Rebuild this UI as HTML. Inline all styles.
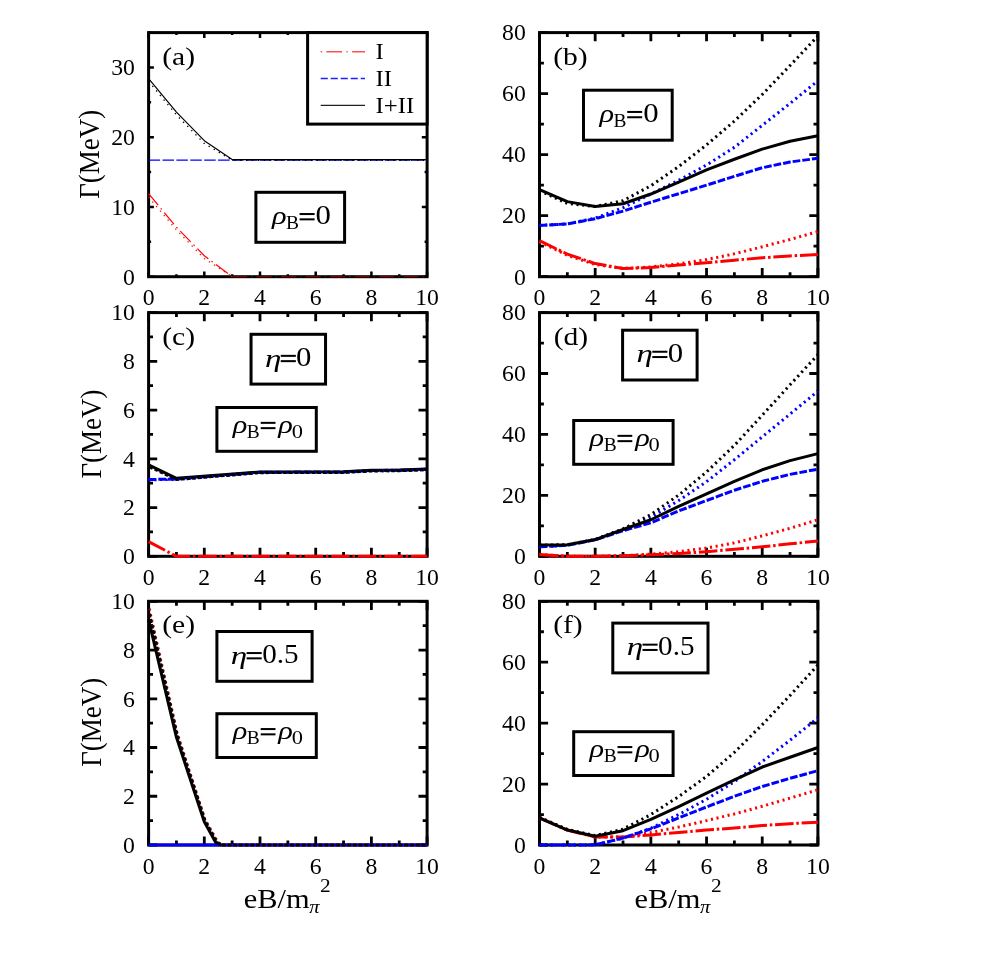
<!DOCTYPE html>
<html><head><meta charset="utf-8"><title>figure</title>
<style>html,body{margin:0;padding:0;background:#fff;}svg{display:block;will-change:transform;}text{font-family:'Liberation Serif', serif;fill:#000;}</style></head><body>
<svg width="981" height="980" viewBox="0 0 981 980">
<rect width="981" height="980" fill="#fff"/>
<rect x="148.60" y="32.60" width="278.50" height="244.10" fill="none" stroke="#000" stroke-width="3.0"/>
<path d="M148.60,276.70 v-5.30 M148.60,32.60 v5.30 M176.45,276.70 v-2.50 M176.45,32.60 v2.50 M204.30,276.70 v-5.30 M204.30,32.60 v5.30 M232.15,276.70 v-2.50 M232.15,32.60 v2.50 M260.00,276.70 v-5.30 M260.00,32.60 v5.30 M287.85,276.70 v-2.50 M287.85,32.60 v2.50 M315.70,276.70 v-5.30 M315.70,32.60 v5.30 M343.55,276.70 v-2.50 M343.55,32.60 v2.50 M371.40,276.70 v-5.30 M371.40,32.60 v5.30 M399.25,276.70 v-2.50 M399.25,32.60 v2.50 M427.10,276.70 v-5.30 M427.10,32.60 v5.30 M148.60,276.70 h5.30 M427.10,276.70 h-5.30 M148.60,241.83 h2.50 M427.10,241.83 h-2.50 M148.60,206.96 h5.30 M427.10,206.96 h-5.30 M148.60,172.09 h2.50 M427.10,172.09 h-2.50 M148.60,137.21 h5.30 M427.10,137.21 h-5.30 M148.60,102.34 h2.50 M427.10,102.34 h-2.50 M148.60,67.47 h5.30 M427.10,67.47 h-5.30 M148.60,32.60 h2.50 M427.10,32.60 h-2.50" fill="none" stroke="#000" stroke-width="2.5"/>
<text transform="translate(148.60,305.30) scale(1.010,1)" font-size="23.50" text-anchor="middle">0</text>
<text transform="translate(204.30,305.30) scale(1.010,1)" font-size="23.50" text-anchor="middle">2</text>
<text transform="translate(260.00,305.30) scale(1.010,1)" font-size="23.50" text-anchor="middle">4</text>
<text transform="translate(315.70,305.30) scale(1.010,1)" font-size="23.50" text-anchor="middle">6</text>
<text transform="translate(371.40,305.30) scale(1.010,1)" font-size="23.50" text-anchor="middle">8</text>
<text transform="translate(427.10,305.30) scale(1.010,1)" font-size="23.50" text-anchor="middle">10</text>
<text transform="translate(134.90,284.50) scale(1.010,1)" font-size="23.50" text-anchor="end">0</text>
<text transform="translate(134.90,214.76) scale(1.010,1)" font-size="23.50" text-anchor="end">10</text>
<text transform="translate(134.90,145.01) scale(1.010,1)" font-size="23.50" text-anchor="end">20</text>
<text transform="translate(134.90,75.27) scale(1.010,1)" font-size="23.50" text-anchor="end">30</text>
<path d="M148.60,160.09 L427.10,160.09" fill="none" stroke="#0000ff" stroke-width="1.3" stroke-linejoin="round" stroke-dasharray="11.5 2.4"/>
<path d="M148.60,78.63 L176.45,112.11 L204.30,140.70 L232.15,159.53 L427.10,159.53" fill="none" stroke="#000000" stroke-width="1.2" stroke-linejoin="round"/>
<path d="M148.60,81.42 L176.45,114.90 L204.30,143.49 L232.15,160.23 L427.10,160.23" fill="none" stroke="#000000" stroke-width="1.3" stroke-linejoin="round" stroke-dasharray="1.3 4.6"/>
<path d="M148.60,193.71 L176.45,227.18 L204.30,255.78 L232.15,276.70" fill="none" stroke="#ff0000" stroke-width="1.2" stroke-linejoin="round" stroke-dasharray="15 4 1.5 4"/>
<path d="M232.15,276.70 L427.10,276.70" fill="none" stroke="#d00000" stroke-width="1.1" stroke-linejoin="round" stroke-dasharray="15 4 1.5 4" stroke-opacity="0.75"/>
<path d="M148.60,197.19 L176.45,229.97 L204.30,258.57 L232.15,276.70" fill="none" stroke="#ff0000" stroke-width="1.3" stroke-linejoin="round" stroke-dasharray="1.3 4.6"/>
<rect x="307.60" y="32.60" width="119.50" height="91.50" fill="#fff" stroke="#000" stroke-width="3.0"/>
<path d="M320.7,51.7 H365" stroke="#ff5050" stroke-width="1.5" stroke-dasharray="1.4 4.3 15.7 4.3" fill="none"/>
<path d="M320.7,78.6 H365" stroke="#2020ff" stroke-width="1.5" stroke-dasharray="7.1 2.9" fill="none"/>
<path d="M320.7,105.4 H365" stroke="#222" stroke-width="1.3" fill="none"/>
<text transform="translate(375.53,59.30) scale(1.100,1)" font-size="22.50">I</text>
<text transform="translate(375.53,86.00) scale(1.100,1)" font-size="22.50">II</text>
<text transform="translate(375.53,112.90) scale(1.100,1)" font-size="22.50">I+II</text>
<text transform="translate(162.24,64.60) scale(1.130,1)" font-size="26.20">(a)</text>
<rect x="255.90" y="192.30" width="88.70" height="50.00" fill="#fff" stroke="#000" stroke-width="3.0"/>
<text transform="translate(271.96,224.00) scale(1.250,1)" font-size="24.30" font-style="italic">ρ</text>
<text transform="translate(285.97,228.90) scale(1.050,1)" font-size="18.50">B</text>
<rect x="299.60" y="213.05" width="15.00" height="2.0" fill="#000"/>
<rect x="299.60" y="218.35" width="15.00" height="2.0" fill="#000"/>
<text transform="translate(315.55,224.00) scale(1.100,1)" font-size="28.00">0</text>
<rect x="539.50" y="32.60" width="278.40" height="244.10" fill="none" stroke="#000" stroke-width="3.0"/>
<path d="M539.50,276.70 v-8.60 M539.50,32.60 v8.60 M567.34,276.70 v-4.40 M567.34,32.60 v4.40 M595.18,276.70 v-8.60 M595.18,32.60 v8.60 M623.02,276.70 v-4.40 M623.02,32.60 v4.40 M650.86,276.70 v-8.60 M650.86,32.60 v8.60 M678.70,276.70 v-4.40 M678.70,32.60 v4.40 M706.54,276.70 v-8.60 M706.54,32.60 v8.60 M734.38,276.70 v-4.40 M734.38,32.60 v4.40 M762.22,276.70 v-8.60 M762.22,32.60 v8.60 M790.06,276.70 v-4.40 M790.06,32.60 v4.40 M817.90,276.70 v-8.60 M817.90,32.60 v8.60 M539.50,276.70 h8.60 M817.90,276.70 h-8.60 M539.50,246.19 h4.40 M817.90,246.19 h-4.40 M539.50,215.67 h8.60 M817.90,215.67 h-8.60 M539.50,185.16 h4.40 M817.90,185.16 h-4.40 M539.50,154.65 h8.60 M817.90,154.65 h-8.60 M539.50,124.14 h4.40 M817.90,124.14 h-4.40 M539.50,93.62 h8.60 M817.90,93.62 h-8.60 M539.50,63.11 h4.40 M817.90,63.11 h-4.40 M539.50,32.60 h8.60 M817.90,32.60 h-8.60" fill="none" stroke="#000" stroke-width="2.8"/>
<text transform="translate(539.50,305.30) scale(1.010,1)" font-size="23.50" text-anchor="middle">0</text>
<text transform="translate(595.18,305.30) scale(1.010,1)" font-size="23.50" text-anchor="middle">2</text>
<text transform="translate(650.86,305.30) scale(1.010,1)" font-size="23.50" text-anchor="middle">4</text>
<text transform="translate(706.54,305.30) scale(1.010,1)" font-size="23.50" text-anchor="middle">6</text>
<text transform="translate(762.22,305.30) scale(1.010,1)" font-size="23.50" text-anchor="middle">8</text>
<text transform="translate(817.90,305.30) scale(1.010,1)" font-size="23.50" text-anchor="middle">10</text>
<text transform="translate(525.80,284.50) scale(1.010,1)" font-size="23.50" text-anchor="end">0</text>
<text transform="translate(525.80,223.47) scale(1.010,1)" font-size="23.50" text-anchor="end">20</text>
<text transform="translate(525.80,162.45) scale(1.010,1)" font-size="23.50" text-anchor="end">40</text>
<text transform="translate(525.80,101.42) scale(1.010,1)" font-size="23.50" text-anchor="end">60</text>
<text transform="translate(525.80,40.40) scale(1.010,1)" font-size="23.50" text-anchor="end">80</text>
<path d="M539.50,241.61 L567.34,255.34 L595.18,264.50 L623.02,268.46 L650.86,266.94 L678.70,263.88 L706.54,259.61 L734.38,253.82 L762.22,246.80 L790.06,239.47 L817.90,231.54" fill="none" stroke="#ff0000" stroke-width="3.0" stroke-linejoin="round" stroke-dasharray="2.1 3.6"/>
<path d="M539.50,240.70 L567.34,254.12 L595.18,263.58 L623.02,268.46 L650.86,267.55 L678.70,265.11 L706.54,262.66 L734.38,260.22 L762.22,257.78 L790.06,255.95 L817.90,254.58" fill="none" stroke="#ff0000" stroke-width="3.0" stroke-linejoin="round" stroke-dasharray="18.5 2.8 2.5 2.8"/>
<path d="M539.50,225.44 L567.34,223.91 L595.18,218.12 L623.02,207.74 L650.86,194.01 L678.70,180.28 L706.54,165.02 L734.38,147.33 L762.22,125.36 L790.06,103.39 L817.90,80.81" fill="none" stroke="#0000ff" stroke-width="3.0" stroke-linejoin="round" stroke-dasharray="2.1 3.6"/>
<path d="M539.50,225.44 L567.34,223.91 L595.18,218.73 L623.02,211.10 L650.86,202.25 L678.70,193.71 L706.54,185.16 L734.38,176.31 L762.22,167.77 L790.06,161.97 L817.90,158.31" fill="none" stroke="#0000ff" stroke-width="3.0" stroke-linejoin="round" stroke-dasharray="7.7 2.0"/>
<path d="M539.50,190.65 L567.34,203.47 L595.18,206.52 L623.02,200.72 L650.86,185.77 L678.70,166.55 L706.54,144.89 L734.38,121.09 L762.22,94.54 L790.06,65.55 L817.90,35.96" fill="none" stroke="#000000" stroke-width="3.0" stroke-linejoin="round" stroke-dasharray="2.1 3.6"/>
<path d="M539.50,189.74 L567.34,201.64 L595.18,206.52 L623.02,203.78 L650.86,194.01 L678.70,182.11 L706.54,169.91 L734.38,159.23 L762.22,149.16 L790.06,141.22 L817.90,135.73" fill="none" stroke="#000000" stroke-width="3.0" stroke-linejoin="round"/>
<text transform="translate(553.14,64.60) scale(1.130,1)" font-size="26.20">(b)</text>
<rect x="583.50" y="90.20" width="88.70" height="50.00" fill="#fff" stroke="#000" stroke-width="3.0"/>
<text transform="translate(599.56,121.90) scale(1.250,1)" font-size="24.30" font-style="italic">ρ</text>
<text transform="translate(613.57,126.80) scale(1.050,1)" font-size="18.50">B</text>
<rect x="627.20" y="110.95" width="15.00" height="2.0" fill="#000"/>
<rect x="627.20" y="116.25" width="15.00" height="2.0" fill="#000"/>
<text transform="translate(643.14,121.90) scale(1.100,1)" font-size="28.00">0</text>
<rect x="148.60" y="312.60" width="278.50" height="243.70" fill="none" stroke="#000" stroke-width="3.0"/>
<path d="M148.60,556.30 v-8.60 M148.60,312.60 v8.60 M176.45,556.30 v-4.40 M176.45,312.60 v4.40 M204.30,556.30 v-8.60 M204.30,312.60 v8.60 M232.15,556.30 v-4.40 M232.15,312.60 v4.40 M260.00,556.30 v-8.60 M260.00,312.60 v8.60 M287.85,556.30 v-4.40 M287.85,312.60 v4.40 M315.70,556.30 v-8.60 M315.70,312.60 v8.60 M343.55,556.30 v-4.40 M343.55,312.60 v4.40 M371.40,556.30 v-8.60 M371.40,312.60 v8.60 M399.25,556.30 v-4.40 M399.25,312.60 v4.40 M427.10,556.30 v-8.60 M427.10,312.60 v8.60 M148.60,556.30 h8.60 M427.10,556.30 h-8.60 M148.60,531.93 h4.40 M427.10,531.93 h-4.40 M148.60,507.56 h8.60 M427.10,507.56 h-8.60 M148.60,483.19 h4.40 M427.10,483.19 h-4.40 M148.60,458.82 h8.60 M427.10,458.82 h-8.60 M148.60,434.45 h4.40 M427.10,434.45 h-4.40 M148.60,410.08 h8.60 M427.10,410.08 h-8.60 M148.60,385.71 h4.40 M427.10,385.71 h-4.40 M148.60,361.34 h8.60 M427.10,361.34 h-8.60 M148.60,336.97 h4.40 M427.10,336.97 h-4.40 M148.60,312.60 h8.60 M427.10,312.60 h-8.60" fill="none" stroke="#000" stroke-width="2.8"/>
<text transform="translate(148.60,584.90) scale(1.010,1)" font-size="23.50" text-anchor="middle">0</text>
<text transform="translate(204.30,584.90) scale(1.010,1)" font-size="23.50" text-anchor="middle">2</text>
<text transform="translate(260.00,584.90) scale(1.010,1)" font-size="23.50" text-anchor="middle">4</text>
<text transform="translate(315.70,584.90) scale(1.010,1)" font-size="23.50" text-anchor="middle">6</text>
<text transform="translate(371.40,584.90) scale(1.010,1)" font-size="23.50" text-anchor="middle">8</text>
<text transform="translate(427.10,584.90) scale(1.010,1)" font-size="23.50" text-anchor="middle">10</text>
<text transform="translate(134.90,564.10) scale(1.010,1)" font-size="23.50" text-anchor="end">0</text>
<text transform="translate(134.90,515.36) scale(1.010,1)" font-size="23.50" text-anchor="end">2</text>
<text transform="translate(134.90,466.62) scale(1.010,1)" font-size="23.50" text-anchor="end">4</text>
<text transform="translate(134.90,417.88) scale(1.010,1)" font-size="23.50" text-anchor="end">6</text>
<text transform="translate(134.90,369.14) scale(1.010,1)" font-size="23.50" text-anchor="end">8</text>
<text transform="translate(134.90,320.40) scale(1.010,1)" font-size="23.50" text-anchor="end">10</text>
<path d="M148.60,479.53 L176.45,479.05 L260.00,472.22 L343.55,471.98 L371.40,470.52 L399.25,470.27 L427.10,469.30" fill="none" stroke="#0000ff" stroke-width="3.0" stroke-linejoin="round" stroke-dasharray="7.7 2.0"/>
<path d="M148.60,464.91 L176.45,478.32 L260.00,471.98 L343.55,471.74 L371.40,470.27 L399.25,470.03 L427.10,469.06" fill="none" stroke="#000000" stroke-width="3.0" stroke-linejoin="round"/>
<path d="M148.60,480.02 L176.45,479.53 L260.00,472.71 L343.55,472.47 L371.40,471.00 L399.25,470.76 L427.10,469.79" fill="none" stroke="#0000ff" stroke-width="2.6" stroke-linejoin="round" stroke-dasharray="2.1 3.6"/>
<path d="M149.44,467.11 L176.45,479.78 L260.00,472.95 L343.55,472.71 L371.40,471.25 L399.25,471.00 L427.10,470.03" fill="none" stroke="#000000" stroke-width="2.4" stroke-linejoin="round" stroke-dasharray="3.4 2.3"/>
<path d="M148.60,541.68 L176.45,556.30 L427.10,556.30" fill="none" stroke="#ff0000" stroke-width="3.0" stroke-linejoin="round" stroke-dasharray="18.5 2.8 2.5 2.8"/>
<text transform="translate(162.24,344.60) scale(1.130,1)" font-size="26.20">(c)</text>
<rect x="251.05" y="334.30" width="74.50" height="49.80" fill="#fff" stroke="#000" stroke-width="3.0"/>
<text transform="translate(264.89,366.50) scale(1.300,1)" font-size="25.40" font-style="italic">η</text>
<rect x="280.75" y="354.85" width="15.10" height="2.0" fill="#000"/>
<rect x="280.75" y="360.15" width="15.10" height="2.0" fill="#000"/>
<text transform="translate(296.10,365.80) scale(1.100,1)" font-size="28.00">0</text>
<rect x="216.90" y="407.50" width="99.40" height="43.80" fill="#fff" stroke="#000" stroke-width="3.0"/>
<text transform="translate(232.76,432.80) scale(1.250,1)" font-size="24.30" font-style="italic">ρ</text>
<text transform="translate(246.87,437.70) scale(1.050,1)" font-size="18.50">B</text>
<rect x="260.70" y="421.85" width="14.80" height="2.0" fill="#000"/>
<rect x="260.70" y="427.15" width="14.80" height="2.0" fill="#000"/>
<text transform="translate(278.36,432.80) scale(1.250,1)" font-size="24.30" font-style="italic">ρ</text>
<text transform="translate(291.66,438.00) scale(1.200,1)" font-size="18.70">0</text>
<rect x="539.50" y="312.60" width="278.40" height="243.70" fill="none" stroke="#000" stroke-width="3.0"/>
<path d="M539.50,556.30 v-8.60 M539.50,312.60 v8.60 M567.34,556.30 v-4.40 M567.34,312.60 v4.40 M595.18,556.30 v-8.60 M595.18,312.60 v8.60 M623.02,556.30 v-4.40 M623.02,312.60 v4.40 M650.86,556.30 v-8.60 M650.86,312.60 v8.60 M678.70,556.30 v-4.40 M678.70,312.60 v4.40 M706.54,556.30 v-8.60 M706.54,312.60 v8.60 M734.38,556.30 v-4.40 M734.38,312.60 v4.40 M762.22,556.30 v-8.60 M762.22,312.60 v8.60 M790.06,556.30 v-4.40 M790.06,312.60 v4.40 M817.90,556.30 v-8.60 M817.90,312.60 v8.60 M539.50,556.30 h8.60 M817.90,556.30 h-8.60 M539.50,525.84 h4.40 M817.90,525.84 h-4.40 M539.50,495.38 h8.60 M817.90,495.38 h-8.60 M539.50,464.91 h4.40 M817.90,464.91 h-4.40 M539.50,434.45 h8.60 M817.90,434.45 h-8.60 M539.50,403.99 h4.40 M817.90,403.99 h-4.40 M539.50,373.52 h8.60 M817.90,373.52 h-8.60 M539.50,343.06 h4.40 M817.90,343.06 h-4.40 M539.50,312.60 h8.60 M817.90,312.60 h-8.60" fill="none" stroke="#000" stroke-width="2.8"/>
<text transform="translate(539.50,584.90) scale(1.010,1)" font-size="23.50" text-anchor="middle">0</text>
<text transform="translate(595.18,584.90) scale(1.010,1)" font-size="23.50" text-anchor="middle">2</text>
<text transform="translate(650.86,584.90) scale(1.010,1)" font-size="23.50" text-anchor="middle">4</text>
<text transform="translate(706.54,584.90) scale(1.010,1)" font-size="23.50" text-anchor="middle">6</text>
<text transform="translate(762.22,584.90) scale(1.010,1)" font-size="23.50" text-anchor="middle">8</text>
<text transform="translate(817.90,584.90) scale(1.010,1)" font-size="23.50" text-anchor="middle">10</text>
<text transform="translate(525.80,564.10) scale(1.010,1)" font-size="23.50" text-anchor="end">0</text>
<text transform="translate(525.80,503.18) scale(1.010,1)" font-size="23.50" text-anchor="end">20</text>
<text transform="translate(525.80,442.25) scale(1.010,1)" font-size="23.50" text-anchor="end">40</text>
<text transform="translate(525.80,381.32) scale(1.010,1)" font-size="23.50" text-anchor="end">60</text>
<text transform="translate(525.80,320.40) scale(1.010,1)" font-size="23.50" text-anchor="end">80</text>
<path d="M539.50,554.47 L567.34,556.30 L595.18,556.30 L623.02,555.69 L650.86,554.17 L678.70,551.73 L706.54,548.08 L734.38,542.90 L762.22,535.89 L790.06,528.27 L817.90,519.75" fill="none" stroke="#ff0000" stroke-width="3.0" stroke-linejoin="round" stroke-dasharray="2.1 3.6"/>
<path d="M539.50,554.47 L567.34,556.30 L595.18,556.30 L623.02,555.84 L650.86,554.78 L678.70,553.56 L706.54,551.73 L734.38,549.29 L762.22,546.86 L790.06,543.81 L817.90,541.07" fill="none" stroke="#ff0000" stroke-width="3.0" stroke-linejoin="round" stroke-dasharray="18.5 2.8 2.5 2.8"/>
<path d="M539.50,546.86 L567.34,545.03 L595.18,539.55 L623.02,529.49 L650.86,517.31 L678.70,500.55 L706.54,481.67 L734.38,459.73 L762.22,436.89 L790.06,414.04 L817.90,391.19" fill="none" stroke="#0000ff" stroke-width="3.0" stroke-linejoin="round" stroke-dasharray="2.1 3.6"/>
<path d="M539.50,545.03 L567.34,544.72 L595.18,539.55 L623.02,528.88 L650.86,514.57 L678.70,495.07 L706.54,471.92 L734.38,445.42 L762.22,415.26 L790.06,384.80 L817.90,354.64" fill="none" stroke="#000000" stroke-width="3.0" stroke-linejoin="round" stroke-dasharray="2.1 3.6"/>
<path d="M539.50,546.86 L567.34,545.33 L595.18,539.85 L623.02,530.71 L650.86,522.79 L678.70,510.91 L706.54,500.55 L734.38,490.20 L762.22,481.36 L790.06,474.36 L817.90,469.18" fill="none" stroke="#0000ff" stroke-width="3.0" stroke-linejoin="round" stroke-dasharray="7.7 2.0"/>
<path d="M539.50,545.03 L567.34,544.72 L595.18,539.55 L623.02,529.49 L650.86,519.75 L678.70,506.34 L706.54,493.85 L734.38,481.36 L762.22,469.79 L790.06,460.65 L817.90,453.64" fill="none" stroke="#000000" stroke-width="3.0" stroke-linejoin="round"/>
<text transform="translate(553.64,344.60) scale(1.130,1)" font-size="26.20">(d)</text>
<rect x="622.60" y="330.20" width="74.50" height="49.80" fill="#fff" stroke="#000" stroke-width="3.0"/>
<text transform="translate(636.44,362.40) scale(1.300,1)" font-size="25.40" font-style="italic">η</text>
<rect x="652.30" y="350.75" width="15.10" height="2.0" fill="#000"/>
<rect x="652.30" y="356.05" width="15.10" height="2.0" fill="#000"/>
<text transform="translate(667.65,361.70) scale(1.100,1)" font-size="28.00">0</text>
<rect x="573.70" y="420.50" width="99.40" height="43.80" fill="#fff" stroke="#000" stroke-width="3.0"/>
<text transform="translate(589.56,445.80) scale(1.250,1)" font-size="24.30" font-style="italic">ρ</text>
<text transform="translate(603.67,450.70) scale(1.050,1)" font-size="18.50">B</text>
<rect x="617.50" y="434.85" width="14.80" height="2.0" fill="#000"/>
<rect x="617.50" y="440.15" width="14.80" height="2.0" fill="#000"/>
<text transform="translate(635.16,445.80) scale(1.250,1)" font-size="24.30" font-style="italic">ρ</text>
<text transform="translate(648.46,451.00) scale(1.200,1)" font-size="18.70">0</text>
<rect x="148.60" y="601.30" width="278.50" height="243.70" fill="none" stroke="#000" stroke-width="3.0"/>
<path d="M148.60,845.00 v-8.60 M148.60,601.30 v8.60 M176.45,845.00 v-4.40 M176.45,601.30 v4.40 M204.30,845.00 v-8.60 M204.30,601.30 v8.60 M232.15,845.00 v-4.40 M232.15,601.30 v4.40 M260.00,845.00 v-8.60 M260.00,601.30 v8.60 M287.85,845.00 v-4.40 M287.85,601.30 v4.40 M315.70,845.00 v-8.60 M315.70,601.30 v8.60 M343.55,845.00 v-4.40 M343.55,601.30 v4.40 M371.40,845.00 v-8.60 M371.40,601.30 v8.60 M399.25,845.00 v-4.40 M399.25,601.30 v4.40 M427.10,845.00 v-8.60 M427.10,601.30 v8.60 M148.60,845.00 h8.60 M427.10,845.00 h-8.60 M148.60,820.63 h4.40 M427.10,820.63 h-4.40 M148.60,796.26 h8.60 M427.10,796.26 h-8.60 M148.60,771.89 h4.40 M427.10,771.89 h-4.40 M148.60,747.52 h8.60 M427.10,747.52 h-8.60 M148.60,723.15 h4.40 M427.10,723.15 h-4.40 M148.60,698.78 h8.60 M427.10,698.78 h-8.60 M148.60,674.41 h4.40 M427.10,674.41 h-4.40 M148.60,650.04 h8.60 M427.10,650.04 h-8.60 M148.60,625.67 h4.40 M427.10,625.67 h-4.40 M148.60,601.30 h8.60 M427.10,601.30 h-8.60" fill="none" stroke="#000" stroke-width="2.8"/>
<text transform="translate(148.60,873.60) scale(1.010,1)" font-size="23.50" text-anchor="middle">0</text>
<text transform="translate(204.30,873.60) scale(1.010,1)" font-size="23.50" text-anchor="middle">2</text>
<text transform="translate(260.00,873.60) scale(1.010,1)" font-size="23.50" text-anchor="middle">4</text>
<text transform="translate(315.70,873.60) scale(1.010,1)" font-size="23.50" text-anchor="middle">6</text>
<text transform="translate(371.40,873.60) scale(1.010,1)" font-size="23.50" text-anchor="middle">8</text>
<text transform="translate(427.10,873.60) scale(1.010,1)" font-size="23.50" text-anchor="middle">10</text>
<text transform="translate(134.90,852.80) scale(1.010,1)" font-size="23.50" text-anchor="end">0</text>
<text transform="translate(134.90,804.06) scale(1.010,1)" font-size="23.50" text-anchor="end">2</text>
<text transform="translate(134.90,755.32) scale(1.010,1)" font-size="23.50" text-anchor="end">4</text>
<text transform="translate(134.90,706.58) scale(1.010,1)" font-size="23.50" text-anchor="end">6</text>
<text transform="translate(134.90,657.84) scale(1.010,1)" font-size="23.50" text-anchor="end">8</text>
<text transform="translate(134.90,609.10) scale(1.010,1)" font-size="23.50" text-anchor="end">10</text>
<path d="M148.60,845.00 L427.10,845.00" fill="none" stroke="#0000ff" stroke-width="3.0" stroke-linejoin="round"/>
<path d="M149.44,608.61 L177.29,732.90 L205.14,819.41 L218.22,842.56 L225.19,845.00" fill="none" stroke="#900000" stroke-width="2.4" stroke-linejoin="round" stroke-dasharray="2.1 3.6"/>
<path d="M149.16,613.48 L177.01,735.34 L204.86,820.63 L216.83,842.56 L222.40,845.00 L427.10,845.00" fill="none" stroke="#1a0000" stroke-width="3.0" stroke-linejoin="round" stroke-dasharray="4.1 1.6"/>
<path d="M148.60,619.58 L176.45,737.28 L204.30,821.85 L215.44,842.08 L221.01,845.00" fill="none" stroke="#000000" stroke-width="3.0" stroke-linejoin="round"/>
<text transform="translate(162.24,633.30) scale(1.130,1)" font-size="26.20">(e)</text>
<rect x="216.90" y="631.50" width="95.20" height="49.80" fill="#fff" stroke="#000" stroke-width="3.0"/>
<text transform="translate(230.74,663.70) scale(1.300,1)" font-size="25.40" font-style="italic">η</text>
<rect x="246.60" y="652.05" width="15.10" height="2.0" fill="#000"/>
<rect x="246.60" y="657.35" width="15.10" height="2.0" fill="#000"/>
<text transform="translate(262.21,663.00) scale(1.040,1)" font-size="28.00">0.5</text>
<rect x="216.90" y="713.70" width="99.40" height="43.80" fill="#fff" stroke="#000" stroke-width="3.0"/>
<text transform="translate(232.76,739.00) scale(1.250,1)" font-size="24.30" font-style="italic">ρ</text>
<text transform="translate(246.87,743.90) scale(1.050,1)" font-size="18.50">B</text>
<rect x="260.70" y="728.05" width="14.80" height="2.0" fill="#000"/>
<rect x="260.70" y="733.35" width="14.80" height="2.0" fill="#000"/>
<text transform="translate(278.36,739.00) scale(1.250,1)" font-size="24.30" font-style="italic">ρ</text>
<text transform="translate(291.66,744.20) scale(1.200,1)" font-size="18.70">0</text>
<rect x="539.50" y="601.30" width="278.40" height="243.70" fill="none" stroke="#000" stroke-width="3.0"/>
<path d="M539.50,845.00 v-8.60 M539.50,601.30 v8.60 M567.34,845.00 v-4.40 M567.34,601.30 v4.40 M595.18,845.00 v-8.60 M595.18,601.30 v8.60 M623.02,845.00 v-4.40 M623.02,601.30 v4.40 M650.86,845.00 v-8.60 M650.86,601.30 v8.60 M678.70,845.00 v-4.40 M678.70,601.30 v4.40 M706.54,845.00 v-8.60 M706.54,601.30 v8.60 M734.38,845.00 v-4.40 M734.38,601.30 v4.40 M762.22,845.00 v-8.60 M762.22,601.30 v8.60 M790.06,845.00 v-4.40 M790.06,601.30 v4.40 M817.90,845.00 v-8.60 M817.90,601.30 v8.60 M539.50,845.00 h8.60 M817.90,845.00 h-8.60 M539.50,814.54 h4.40 M817.90,814.54 h-4.40 M539.50,784.08 h8.60 M817.90,784.08 h-8.60 M539.50,753.61 h4.40 M817.90,753.61 h-4.40 M539.50,723.15 h8.60 M817.90,723.15 h-8.60 M539.50,692.69 h4.40 M817.90,692.69 h-4.40 M539.50,662.22 h8.60 M817.90,662.22 h-8.60 M539.50,631.76 h4.40 M817.90,631.76 h-4.40 M539.50,601.30 h8.60 M817.90,601.30 h-8.60" fill="none" stroke="#000" stroke-width="2.8"/>
<text transform="translate(539.50,873.60) scale(1.010,1)" font-size="23.50" text-anchor="middle">0</text>
<text transform="translate(595.18,873.60) scale(1.010,1)" font-size="23.50" text-anchor="middle">2</text>
<text transform="translate(650.86,873.60) scale(1.010,1)" font-size="23.50" text-anchor="middle">4</text>
<text transform="translate(706.54,873.60) scale(1.010,1)" font-size="23.50" text-anchor="middle">6</text>
<text transform="translate(762.22,873.60) scale(1.010,1)" font-size="23.50" text-anchor="middle">8</text>
<text transform="translate(817.90,873.60) scale(1.010,1)" font-size="23.50" text-anchor="middle">10</text>
<text transform="translate(525.80,852.80) scale(1.010,1)" font-size="23.50" text-anchor="end">0</text>
<text transform="translate(525.80,791.88) scale(1.010,1)" font-size="23.50" text-anchor="end">20</text>
<text transform="translate(525.80,730.95) scale(1.010,1)" font-size="23.50" text-anchor="end">40</text>
<text transform="translate(525.80,670.02) scale(1.010,1)" font-size="23.50" text-anchor="end">60</text>
<text transform="translate(525.80,609.10) scale(1.010,1)" font-size="23.50" text-anchor="end">80</text>
<path d="M539.50,817.58 L567.34,829.77 L595.18,837.08 L623.02,837.08 L650.86,832.51 L678.70,827.03 L706.54,820.63 L734.38,813.93 L762.22,806.31 L790.06,798.09 L817.90,789.86" fill="none" stroke="#ff0000" stroke-width="3.0" stroke-linejoin="round" stroke-dasharray="2.1 3.6"/>
<path d="M539.50,818.19 L567.34,830.07 L595.18,837.08 L623.02,837.08 L650.86,834.95 L678.70,832.51 L706.54,830.07 L734.38,827.94 L762.22,825.50 L790.06,823.68 L817.90,822.15" fill="none" stroke="#ff0000" stroke-width="3.0" stroke-linejoin="round" stroke-dasharray="18.5 2.8 2.5 2.8"/>
<path d="M539.50,845.00 L567.34,845.00 L595.18,844.85 L623.02,838.30 L650.86,828.25 L678.70,814.54 L706.54,799.31 L734.38,781.64 L762.22,761.53 L790.06,740.21 L817.90,717.97" fill="none" stroke="#0000ff" stroke-width="3.0" stroke-linejoin="round" stroke-dasharray="2.1 3.6"/>
<path d="M539.50,845.00 L567.34,845.00 L595.18,844.85 L623.02,837.99 L650.86,828.85 L678.70,817.89 L706.54,806.92 L734.38,796.26 L762.22,786.51 L790.06,778.29 L817.90,770.67" fill="none" stroke="#0000ff" stroke-width="3.0" stroke-linejoin="round" stroke-dasharray="7.7 2.0"/>
<path d="M539.50,817.28 L567.34,829.46 L595.18,835.56 L623.02,829.16 L650.86,814.54 L678.70,796.56 L706.54,776.46 L734.38,752.39 L762.22,724.67 L790.06,695.43 L817.90,664.97" fill="none" stroke="#000000" stroke-width="3.0" stroke-linejoin="round" stroke-dasharray="2.1 3.6"/>
<path d="M539.50,817.89 L567.34,830.07 L595.18,836.17 L623.02,830.68 L650.86,819.41 L678.70,806.62 L706.54,793.21 L734.38,779.81 L762.22,767.02 L790.06,757.27 L817.90,747.52" fill="none" stroke="#000000" stroke-width="3.0" stroke-linejoin="round"/>
<text transform="translate(553.14,633.30) scale(1.130,1)" font-size="26.20">(f)</text>
<rect x="612.80" y="623.10" width="95.20" height="49.80" fill="#fff" stroke="#000" stroke-width="3.0"/>
<text transform="translate(626.64,655.30) scale(1.300,1)" font-size="25.40" font-style="italic">η</text>
<rect x="642.50" y="643.65" width="15.10" height="2.0" fill="#000"/>
<rect x="642.50" y="648.95" width="15.10" height="2.0" fill="#000"/>
<text transform="translate(658.11,654.60) scale(1.040,1)" font-size="28.00">0.5</text>
<rect x="573.70" y="731.70" width="99.40" height="43.80" fill="#fff" stroke="#000" stroke-width="3.0"/>
<text transform="translate(589.56,757.00) scale(1.250,1)" font-size="24.30" font-style="italic">ρ</text>
<text transform="translate(603.67,761.90) scale(1.050,1)" font-size="18.50">B</text>
<rect x="617.50" y="746.05" width="14.80" height="2.0" fill="#000"/>
<rect x="617.50" y="751.35" width="14.80" height="2.0" fill="#000"/>
<text transform="translate(635.16,757.00) scale(1.250,1)" font-size="24.30" font-style="italic">ρ</text>
<text transform="translate(648.46,762.20) scale(1.200,1)" font-size="18.70">0</text>
<text transform="translate(99.40,154.25) rotate(-90) scale(0.891,1)" text-anchor="middle" font-size="30.3">Γ(MeV)</text>
<text transform="translate(101.00,434.05) rotate(-90) scale(0.891,1)" text-anchor="middle" font-size="30.3">Γ(MeV)</text>
<text transform="translate(101.00,722.25) rotate(-90) scale(0.891,1)" text-anchor="middle" font-size="30.3">Γ(MeV)</text>
<text transform="translate(243.68,907.50) scale(1.114,1)" font-size="27.30">eB/m</text>
<text transform="translate(309.20,913.30) scale(1.150,1)" font-size="17.90" font-style="italic">π</text>
<text transform="translate(320.09,892.30) scale(1.200,1)" font-size="17.80">2</text>
<text transform="translate(634.58,907.50) scale(1.114,1)" font-size="27.30">eB/m</text>
<text transform="translate(700.10,913.30) scale(1.150,1)" font-size="17.90" font-style="italic">π</text>
<text transform="translate(710.99,892.30) scale(1.200,1)" font-size="17.80">2</text>
</svg></body></html>
